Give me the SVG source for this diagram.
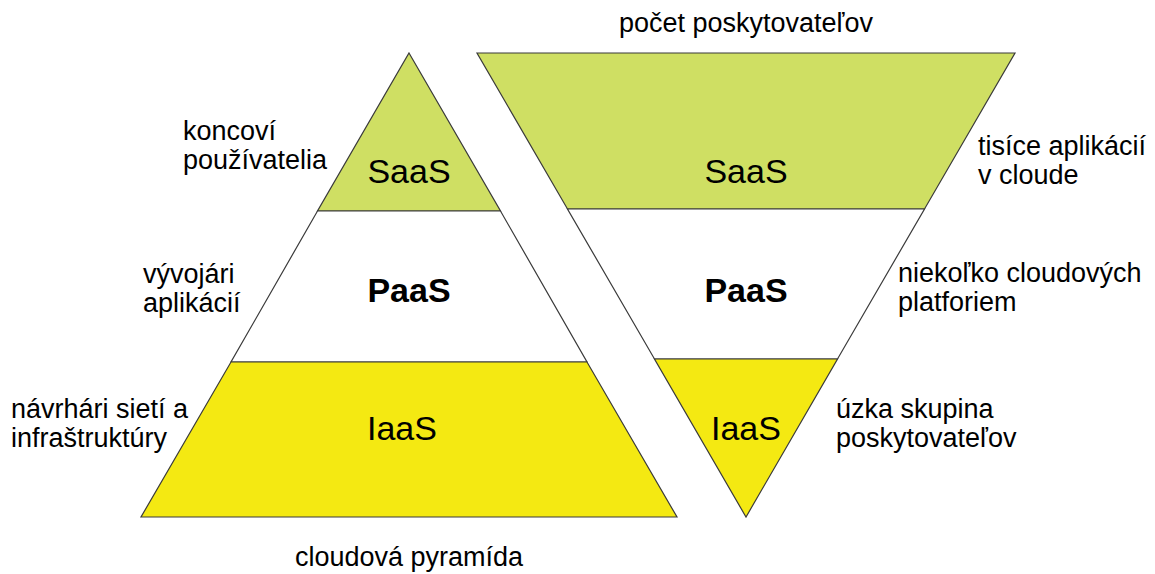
<svg xmlns="http://www.w3.org/2000/svg" width="1155" height="574" viewBox="0 0 1155 574">
  <style>
    .layer { stroke: #3a3a3a; stroke-width: 1.2; stroke-linejoin: miter; }
    .saas { fill: #cfdf63; }
    .paas { fill: #ffffff; }
    .iaas { fill: #f4e912; }
    .tier { font-family: "Liberation Sans", Arial, sans-serif; font-size: 34px; fill: #000; text-anchor: middle; }
    .bold { font-weight: bold; }
    .note { font-family: "Liberation Sans", Arial, sans-serif; font-size: 27px; fill: #000; }
    .mid { text-anchor: middle; }
  </style>
  <rect width="1155" height="574" fill="#ffffff"/>

  <!-- Cloud pyramid (apex 409,53; base 141..677 at y=517) -->
  <g id="pyramid">
    <g id="pyramid-saas">
      <polygon class="layer saas" points="409,53 500.5,211 317.5,211"/>
      <text class="tier" x="409" y="183">SaaS</text>
    </g>
    <g id="pyramid-paas">
      <polygon class="layer paas" points="317.5,211 500.5,211 587,362 231,362"/>
      <text class="tier bold" x="409" y="302">PaaS</text>
    </g>
    <g id="pyramid-iaas">
      <polygon class="layer iaas" points="231,362 587,362 677,517 141,517"/>
      <text class="tier" x="402" y="440">IaaS</text>
    </g>
  </g>

  <!-- Inverted pyramid (top 477..1015 at y=53; tip 746,517) -->
  <g id="inverted">
    <g id="inverted-saas">
      <polygon class="layer saas" points="477,53 1015,53 924.5,209 567.5,209"/>
      <text class="tier" x="746" y="183">SaaS</text>
    </g>
    <g id="inverted-paas">
      <polygon class="layer paas" points="567.5,209 924.5,209 837.5,359 654.5,359"/>
      <text class="tier bold" x="746" y="302">PaaS</text>
    </g>
    <g id="inverted-iaas">
      <polygon class="layer iaas" points="654.5,359 837.5,359 746,517"/>
      <text class="tier" x="746" y="440">IaaS</text>
    </g>
  </g>

  <!-- Side labels, left (two lines each) -->
  <g id="label-end-users">
    <text class="note"><tspan x="183" y="140">koncoví</tspan><tspan x="183" y="169">používatelia</tspan></text>
  </g>
  <g id="label-developers">
    <text class="note"><tspan x="143" y="283">vývojári</tspan><tspan x="143" y="312">aplikácií</tspan></text>
  </g>
  <g id="label-network">
    <text class="note"><tspan x="11" y="418">návrhári sietí a</tspan><tspan x="11" y="447">infraštruktúry</tspan></text>
  </g>

  <!-- Side labels, right -->
  <g id="label-apps">
    <text class="note"><tspan x="978" y="155">tisíce aplikácií</tspan><tspan x="978" y="184">v cloude</tspan></text>
  </g>
  <g id="label-platforms">
    <text class="note"><tspan x="898" y="282">niekoľko cloudových</tspan><tspan x="898" y="311">platforiem</tspan></text>
  </g>
  <g id="label-providers">
    <text class="note"><tspan x="836" y="418">úzka skupina</tspan><tspan x="836" y="447">poskytovateľov</tspan></text>
  </g>

  <!-- Captions -->
  <text class="note mid" x="409" y="566">cloudová pyramída</text>
  <text class="note mid" x="746" y="32">počet poskytovateľov</text>
</svg>
